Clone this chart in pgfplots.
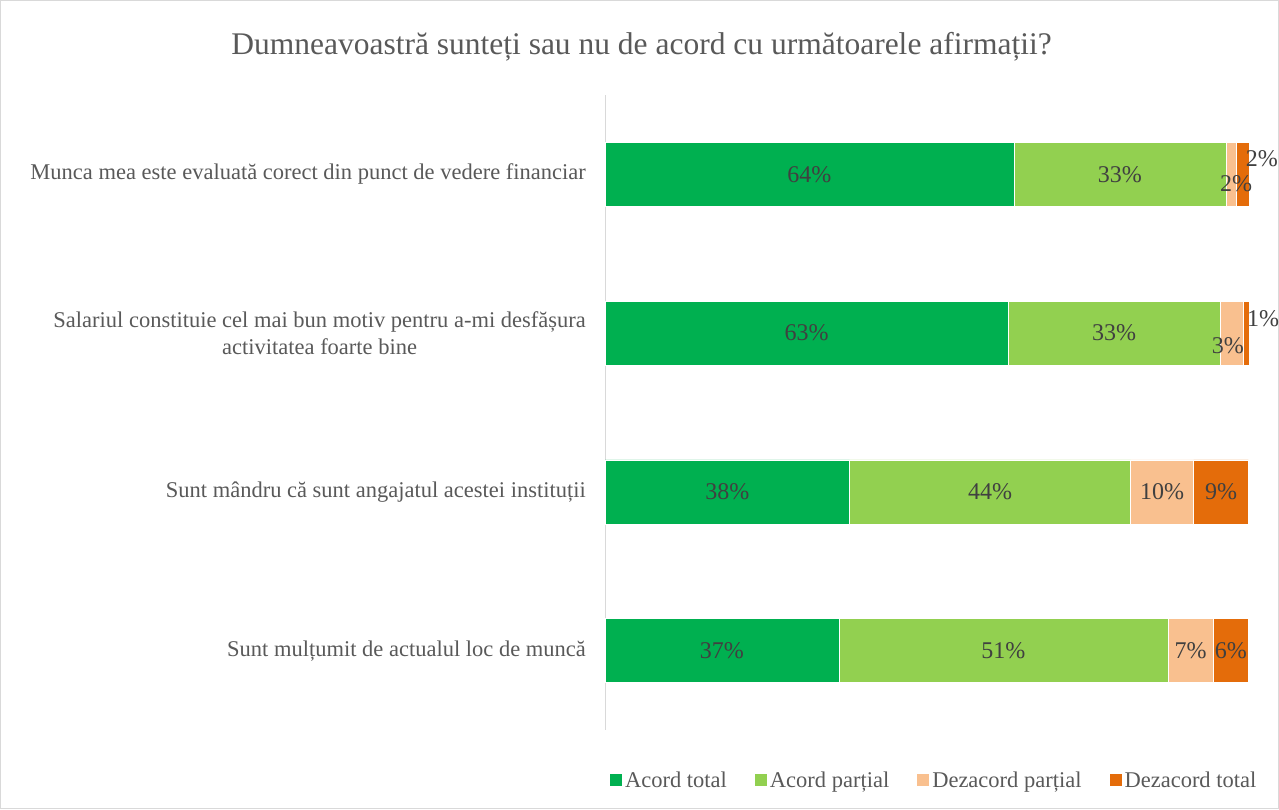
\documentclass[border=0pt]{standalone}
\usepackage{pgfplots}
\pgfplotsset{compat=1.18}
\usepackage{pgfplotstable}
\usepackage{fontspec}
\setmainfont{Liberation Serif}
\definecolor{c1}{HTML}{00B050}
\definecolor{c2}{HTML}{92D050}
\definecolor{c3}{HTML}{F9C08F}
\definecolor{c4}{HTML}{E46C0A}
\definecolor{txt}{HTML}{595959}
\definecolor{lbl}{HTML}{404040}
\definecolor{frame}{HTML}{D9D9D9}

\pgfplotstableread{
row a b c d
0 63.5 32.9 1.6 2.0
1 62.6 32.9 3.6 0.9
2 38.0 43.6 9.8 8.5
3 36.3 51.1 7.1 5.4
}\bars

\pgfplotstableread{
x y t
31.75 0 64
79.95 0 33
98.0 0.06 2
102.0 -0.10 2
31.3 1 63
79.05 1 33
96.7 1.08 3
102.2 0.91 1
19.0 2 38
59.8 2 44
86.5 2 10
95.65 2 9
18.15 3 37
61.85 3 51
90.95 3 7
97.2 3 6
}\labels

\begin{document}
\begin{tikzpicture}
\draw[frame, line width=1pt] (0.5pt,0.5pt) rectangle (1278.5pt,808.5pt);
\node[font=\fontsize{31.5}{35}\selectfont, text=txt] at (641.5pt,762pt) {Dumneavoastră sunteți sau nu de acord cu următoarele afirmații?};
\begin{axis}[
  at={(605pt,79pt)}, anchor=south west,
  scale only axis, width=644pt, height=635pt,
  xmin=0, xmax=100, ymin=-0.5, ymax=3.5, y dir=reverse,
  xbar stacked, bar width=64pt,
  axis x line=none, axis y line=left,
  y axis line style={draw=frame, line width=1pt, -},
  ytick={0,1,2,3},
  yticklabels={{Munca mea este evaluată corect din punct de vedere financiar},
    {Salariul constituie cel mai bun motiv pentru a-mi desfășura\\activitatea foarte bine},
    {Sunt mândru că sunt angajatul acestei instituții},
    {Sunt mulțumit de actualul loc de muncă}},
  major tick length=0pt,
  yticklabel style={font=\fontsize{22.5}{27}\selectfont, text=txt, align=center, inner sep=0pt, xshift=-19pt},
  clip=false,
  legend style={at={(0.512,-0.0787)}, anchor=center, draw=none, fill=none,
    legend columns=4, font=\fontsize{22.5}{27}\selectfont, text=txt,
    nodes={inner sep=3pt},
    /tikz/every even column/.append style={column sep=25pt}},
  legend image code/.code={\fill[#1, draw=none] (0pt,-6pt) rectangle (12pt,6pt);},
]
\addplot[fill=c1, draw=white, line width=0.5pt] table[x=a, y=row]{\bars};
\addplot[fill=c2, draw=white, line width=0.5pt] table[x=b, y=row]{\bars};
\addplot[fill=c3, draw=white, line width=0.5pt] table[x=c, y=row]{\bars};
\addplot[fill=c4, draw=white, line width=0.5pt] table[x=d, y=row]{\bars};
\legend{Acord total, Acord parțial, Dezacord parțial, Dezacord total}
\end{axis}
\begin{axis}[
  at={(605pt,79pt)}, anchor=south west,
  scale only axis, width=644pt, height=635pt,
  xmin=0, xmax=100, ymin=-0.5, ymax=3.5, y dir=reverse,
  hide axis, clip=false,
]
\addplot[only marks, mark=none,
  nodes near coords={\pgfplotspointmeta\%},
  point meta=explicit symbolic,
  every node near coord/.style={anchor=center, font=\fontsize{24}{28}\selectfont, text=lbl}]
  table[x=x, y=y, meta=t]{\labels};
\end{axis}
\pgfresetboundingbox
\path (0pt,0pt) rectangle (1279pt,809pt);
\end{tikzpicture}
\end{document}
